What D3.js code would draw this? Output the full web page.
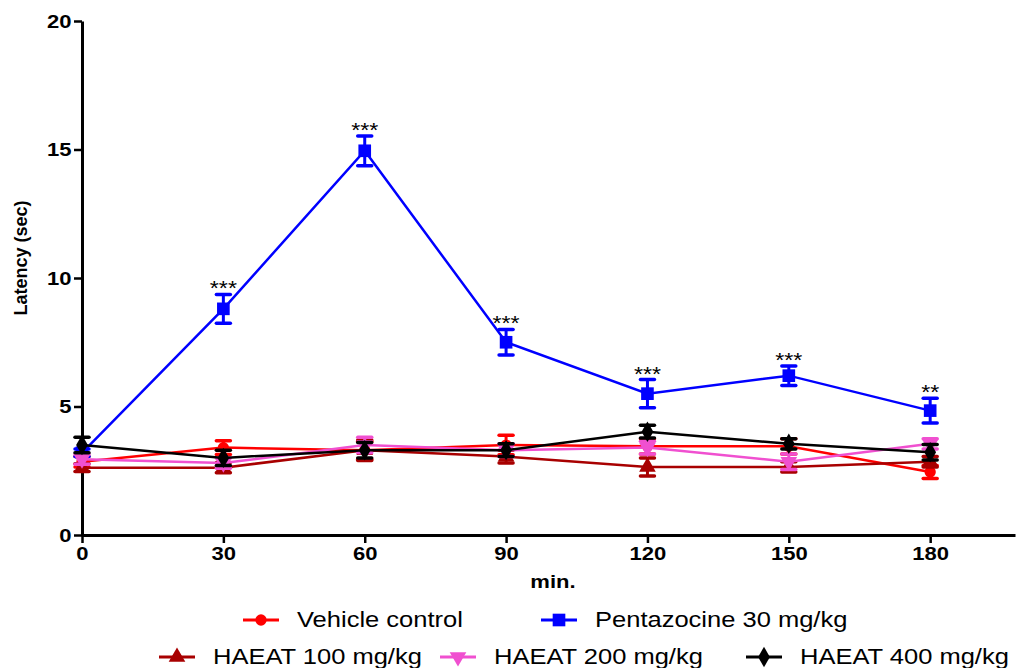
<!DOCTYPE html>
<html>
<head>
<meta charset="utf-8">
<script src="https://cdn.jsdelivr.net/npm/d3@7"></script>
<style>
  body { margin: 0; background: #fff; }
  text { font-family: Arial, "Liberation Sans", sans-serif; }
</style>
</head>
<body>
<div id="chart"></div>
<script>
// data
const times = [0, 30, 60, 90, 120, 150, 180];
const vehicle = [2.85, 3.4, 3.3, 3.5, 3.45, 3.45, 2.45];
const vehicleErr = [0.2, 0.27, 0.35, 0.38, 0.3, 0.3, 0.25];
const pentazocine = [3.2, 8.8, 14.95, 7.5, 5.5, 6.2, 4.84];
const pentazocineErr = [0.15, 0.56, 0.58, 0.5, 0.55, 0.38, 0.48];
const haeat100 = [2.62, 2.62, 3.3, 3.05, 2.65, 2.65, 2.85];
const haeat100Err = [0.15, 0.2, 0.4, 0.25, 0.35, 0.2, 0.2];
const haeat200 = [2.95, 2.8, 3.5, 3.3, 3.4, 2.85, 3.55];
const haeat200Err = [0.2, 0.2, 0.3, 0.25, 0.25, 0.3, 0.2];
const haeat400 = [3.5, 3.0, 3.3, 3.3, 4.02, 3.55, 3.22];
const haeat400Err = [0.3, 0.3, 0.3, 0.25, 0.25, 0.2, 0.3];
const stars = ["", "***", "***", "***", "***", "***", "**"];
const yTicks = [0, 5, 10, 15, 20];
const xTicks = [0, 30, 60, 90, 120, 150, 180];

const series = [
    { name: "Vehicle control", values: vehicle, err: vehicleErr, color: "#ff0000", symbol: d3.symbolCircle, size: 100, rot: 0 },
    { name: "Pentazocine 30 mg/kg", values: pentazocine, err: pentazocineErr, color: "#0000ff", symbol: d3.symbolSquare, size: 160, rot: 0 },
    { name: "HAEAT 100 mg/kg", values: haeat100, err: haeat100Err, color: "#a80000", symbol: d3.symbolTriangle, size: 120, rot: 0 },
    { name: "HAEAT 200 mg/kg", values: haeat200, err: haeat200Err, color: "#f050d0", symbol: d3.symbolTriangle, size: 120, rot: 180 },
    { name: "HAEAT 400 mg/kg", values: haeat400, err: haeat400Err, color: "#000000", symbol: d3.symbolDiamond, size: 120, rot: 0 }
];

const width = 1016, height = 668;
const stretch = 1.16; // text in the figure is slightly wide

const svg = d3.select("#chart")
    .append("svg")
    .attr("width", width)
    .attr("height", height);

const x = d3.scaleLinear().domain([0, 198]).range([82, 1015]);
const y = d3.scaleLinear().domain([0, 20]).range([535, 21]);

// axes
const yAxis = svg.append("g")
    .attr("transform", `translate(${x(0)},0)`)
    .call(d3.axisLeft(y).tickValues(yTicks).tickSize(8).tickSizeOuter(0));
const xAxis = svg.append("g")
    .attr("transform", `translate(0,${y(0)})`)
    .call(d3.axisBottom(x).tickValues(xTicks).tickSize(8).tickSizeOuter(0));

[yAxis, xAxis].forEach(ax => {
    ax.select(".domain").attr("stroke-width", 3);
    ax.selectAll(".tick line").attr("stroke-width", 2.5);
    ax.selectAll(".tick text")
        .attr("font-size", 19)
        .attr("font-weight", "bold")
        .attr("fill", "#000")
        .attr("font-family", "Arial, 'Liberation Sans', sans-serif");
});
yAxis.selectAll(".tick text").attr("x", -9).attr("transform", `scale(${stretch},1)`);
xAxis.selectAll(".tick text").attr("y", 12).attr("transform", `scale(${stretch},1)`);

// axis titles
svg.append("text")
    .attr("transform", `translate(27,258) rotate(-90)`)
    .attr("text-anchor", "middle")
    .attr("font-size", 18)
    .attr("font-weight", "bold")
    .text("Latency (sec)");

svg.append("text")
    .attr("transform", `translate(553,588) scale(${stretch},1)`)
    .attr("text-anchor", "middle")
    .attr("font-size", 19)
    .attr("font-weight", "bold")
    .text("min.");

// series
const line = d3.line()
    .x(d => x(d.t))
    .y(d => y(d.v));

series.forEach(s => {
    const pts = times.map((t, i) => ({ t: t, v: s.values[i], e: s.err[i] }));
    const g = svg.append("g");

    g.append("path")
        .datum(pts)
        .attr("fill", "none")
        .attr("stroke", s.color)
        .attr("stroke-width", 2.5)
        .attr("d", line);

    // error bars
    const eb = g.selectAll(".eb").data(pts).join("g");
    eb.append("line")
        .attr("x1", d => x(d.t)).attr("x2", d => x(d.t))
        .attr("y1", d => y(d.v - d.e)).attr("y2", d => y(d.v + d.e))
        .attr("stroke", s.color).attr("stroke-width", 3);
    [-1, 1].forEach(sign => {
        eb.append("line")
            .attr("x1", d => x(d.t) - 7).attr("x2", d => x(d.t) + 7)
            .attr("y1", d => y(d.v + sign * d.e)).attr("y2", d => y(d.v + sign * d.e))
            .attr("stroke", s.color).attr("stroke-width", 3.5)
            .attr("stroke-linecap", "round");
    });

    g.selectAll(".pt").data(pts).join("path")
        .attr("d", d3.symbol().type(s.symbol).size(s.size))
        .attr("transform", d => `translate(${x(d.t)},${y(d.v)}) rotate(${s.rot})`)
        .attr("fill", s.color);
});

// significance stars
svg.selectAll(".star")
    .data(times.map((t, i) => ({ t: t, top: pentazocine[i] + pentazocineErr[i], s: stars[i] })))
    .join("text")
    .attr("transform", d => `translate(${x(d.t)},${y(d.top) + 1}) scale(${stretch},1)`)
    .attr("text-anchor", "middle")
    .attr("font-size", 20)
    .text(d => d.s);

// legend
const legendPos = [
    { lx: 243, ty: 627 }, { lx: 541, ty: 627 },
    { lx: 159, ty: 664 }, { lx: 440, ty: 664 }, { lx: 746, ty: 664 }
];
series.forEach((s, i) => {
    const p = legendPos[i];
    const ly = p.ty - 7;
    const lg = svg.append("g");
    lg.append("line")
        .attr("x1", p.lx).attr("x2", p.lx + 36)
        .attr("y1", ly).attr("y2", ly)
        .attr("stroke", s.color).attr("stroke-width", 3);
    lg.append("path")
        .attr("d", d3.symbol().type(s.symbol).size(s.size))
        .attr("transform", `translate(${p.lx + 18},${ly}) rotate(${s.rot})`)
        .attr("fill", s.color);
    lg.append("text")
        .attr("transform", `translate(${p.lx + 54},${p.ty}) scale(${stretch},1)`)
        .attr("font-size", 22)
        .attr("fill", "#000")
        .text(s.name);
});
</script>
</body>
</html>
